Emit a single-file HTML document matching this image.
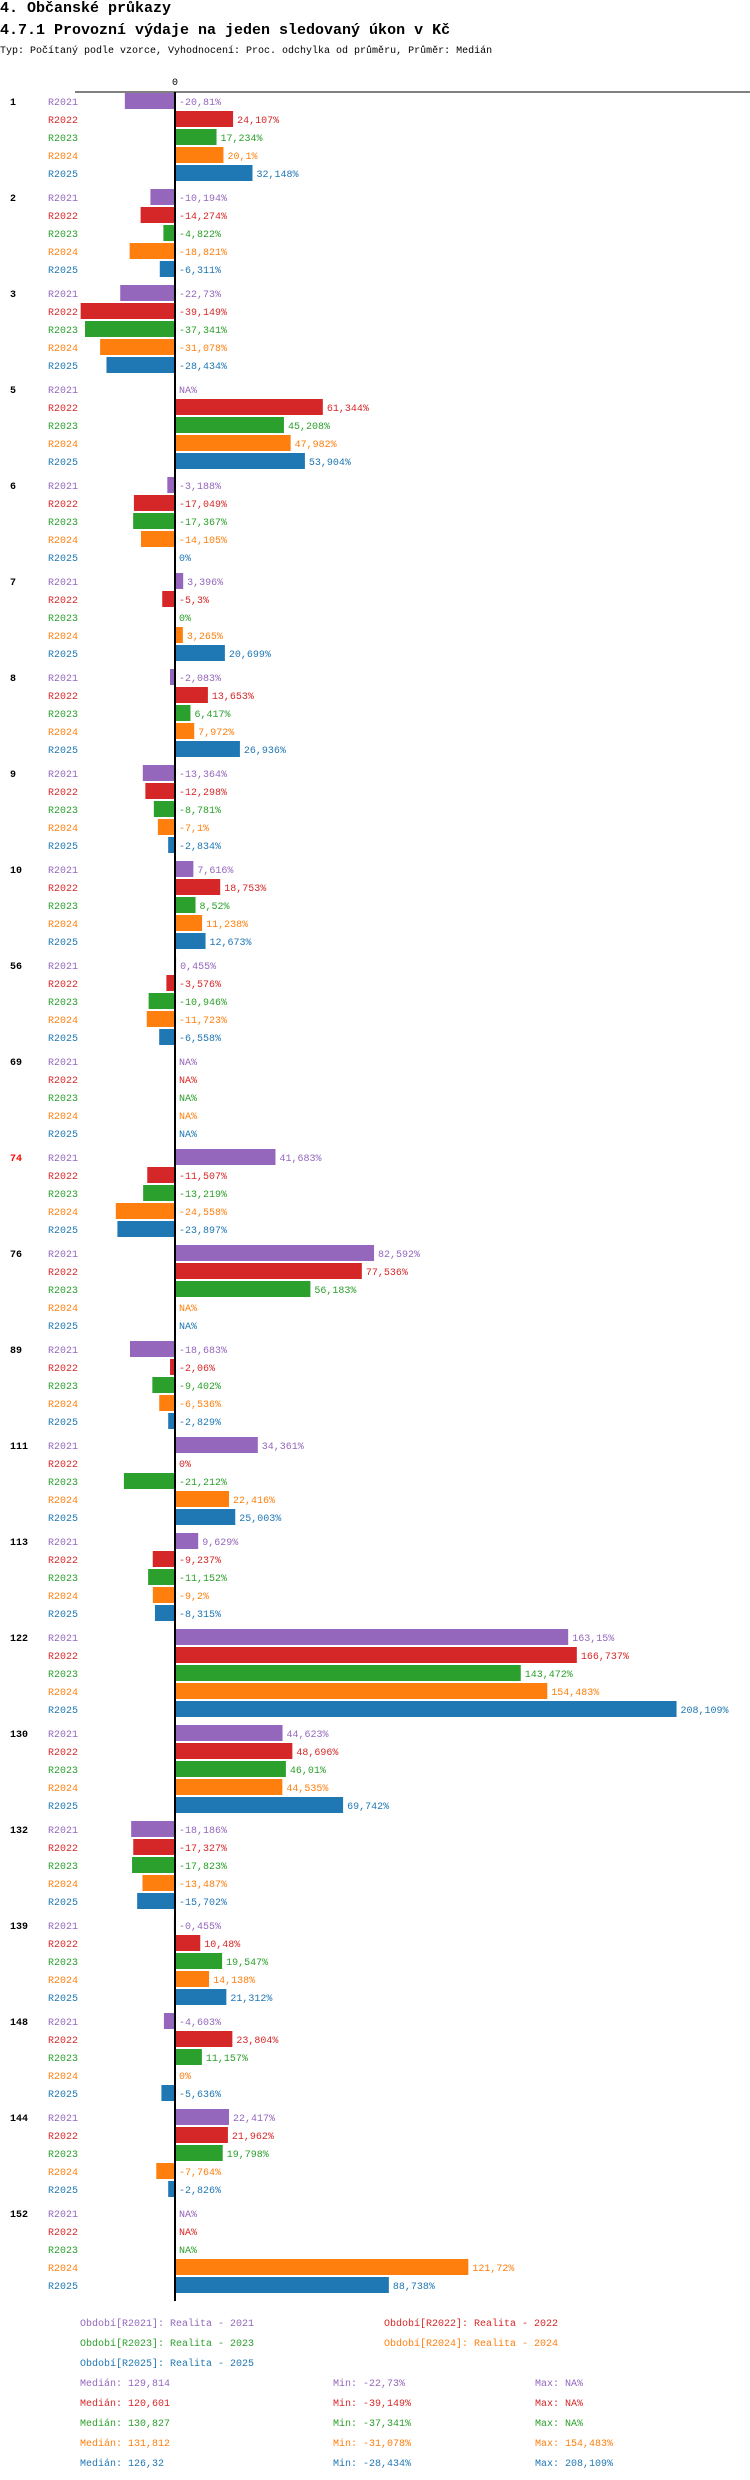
<!DOCTYPE html>
<html><head><meta charset="utf-8">
<style>
html,body{margin:0;padding:0;background:#fff;}
body{width:750px;height:2480px;overflow:hidden;font-family:"Liberation Mono",monospace;}
.t1{position:absolute;left:0;top:0;font-size:15px;font-weight:bold;line-height:17px;}
.t2{position:absolute;left:0;top:22px;font-size:15px;font-weight:bold;line-height:17px;}
.t3{position:absolute;left:0;top:45px;font-size:10px;line-height:13px;}
svg{position:absolute;left:0;top:0;}
svg text{font-family:"Liberation Mono",monospace;font-size:10px;}
</style></head><body>
<div class="t1">4. Občanské průkazy</div>
<div class="t2">4.7.1 Provozní výdaje na jeden sledovaný úkon v Kč</div>
<div class="t3">Typ: Počítaný podle vzorce, Vyhodnocení: Proc. odchylka od průměru, Průměr: Medián</div>
<svg id="chart" width="750" height="2480"></svg>
<script>
const groups=["1","2","3","5","6","7","8","9","10","56","69","74","76","89","111","113","122","130","132","139","148","144","152"];
const seriesNames=["R2021","R2022","R2023","R2024","R2025"];
const s2021=[-20.81,-10.194,-22.73,null,-3.188,3.396,-2.083,-13.364,7.616,0.455,null,41.683,82.592,-18.683,34.361,9.629,163.15,44.623,-18.186,-0.455,-4.603,22.417,null];
const s2022=[24.107,-14.274,-39.149,61.344,-17.049,-5.3,13.653,-12.298,18.753,-3.576,null,-11.507,77.536,-2.06,0,-9.237,166.737,48.696,-17.327,10.48,23.804,21.962,null];
const s2023=[17.234,-4.822,-37.341,45.208,-17.367,0,6.417,-8.781,8.52,-10.946,null,-13.219,56.183,-9.402,-21.212,-11.152,143.472,46.01,-17.823,19.547,11.157,19.798,null];
const s2024=[20.1,-18.821,-31.078,47.982,-14.105,3.265,7.972,-7.1,11.238,-11.723,null,-24.558,null,-6.536,22.416,-9.2,154.483,44.535,-13.487,14.138,0,-7.764,121.72];
const s2025=[32.148,-6.311,-28.434,53.904,0,20.699,26.936,-2.834,12.673,-6.558,null,-23.897,null,-2.829,25.003,-8.315,208.109,69.742,-15.702,21.312,-5.636,-2.826,88.738];
const colors=["#9467bd","#d62728","#2ca02c","#ff7f0e","#1f77b4"];
const legendLabels=["Období[R2021]: Realita - 2021","Období[R2022]: Realita - 2022","Období[R2023]: Realita - 2023","Období[R2024]: Realita - 2024","Období[R2025]: Realita - 2025"];
const medians=["129,814","120,601","130,827","131,812","126,32"];
const mins=["-22,73%","-39,149%","-37,341%","-31,078%","-28,434%"];
const maxs=["NA%","NA%","NA%","154,483%","208,109%"];
const highlighted=["74"];

const series=[s2021,s2022,s2023,s2024,s2025];
const NS="http://www.w3.org/2000/svg";
const svg=document.getElementById('chart');
const X0=175, K=2.41, Y0=101, GP=96, RP=18, BH=16;
const x=v=>X0+v*K;
const y=(g,r)=>Y0+g*GP+r*RP;
function mk(tag,attrs,txt){const e=document.createElementNS(NS,tag);for(const k in attrs)e.setAttribute(k,attrs[k]);if(txt!=null)e.textContent=txt;svg.appendChild(e);return e;}
function fmt(v){return String(v).replace('.',',')+'%';}

const zl=mk('text',{x:X0-3,y:85},'0');


const topAxis=mk('line',{x1:75,y1:92,x2:750,y2:92,stroke:'#000','stroke-width':1});



groups.forEach((g,gi)=>{
  const gl=mk('text',{x:10,y:y(gi,0)+4,'font-weight':'bold',fill:highlighted.includes(g)?'#ff0000':'#000'},g);
  
  
  series.forEach((s,si)=>{
    const cy=y(gi,si);
    const rl=mk('text',{x:48,y:cy+4,fill:colors[si]},seriesNames[si]);
    
    
    const v=s[gi];
    let lx=X0+4;
    if(v!==null&&v!==0){
      const x1=Math.min(x(0),x(v)),x2=Math.max(x(0),x(v));
      const b=mk('rect',{x:x1,y:cy-BH/2,width:x2-x1,height:BH,fill:colors[si]});
      
      
      if(v>0) lx=x(v)+4;
    }
    const vl=mk('text',{x:lx,y:cy+4,fill:colors[si]},v===null?'NA%':fmt(v));
    
    
  });
});
const ax=mk('line',{x1:X0,y1:92,x2:X0,y2:2301,stroke:'#000','stroke-width':2});



const legPos=[[80,2326],[384,2326],[80,2346],[384,2346],[80,2366]];
legendLabels.forEach((l,i)=>{
  const t=mk('text',{x:legPos[i][0],y:legPos[i][1],fill:colors[i]},l);
  
  
});
medians.forEach((m,i)=>{
  const yy=2386+i*20;
  const a=mk('text',{x:80,y:yy,fill:colors[i]},'Medián: '+m);
  
  
  const b=mk('text',{x:333,y:yy,fill:colors[i]},'Min: '+mins[i]);
  
  
  const c=mk('text',{x:535,y:yy,fill:colors[i]},'Max: '+maxs[i]);
  
  
});
</script>
</body></html>
